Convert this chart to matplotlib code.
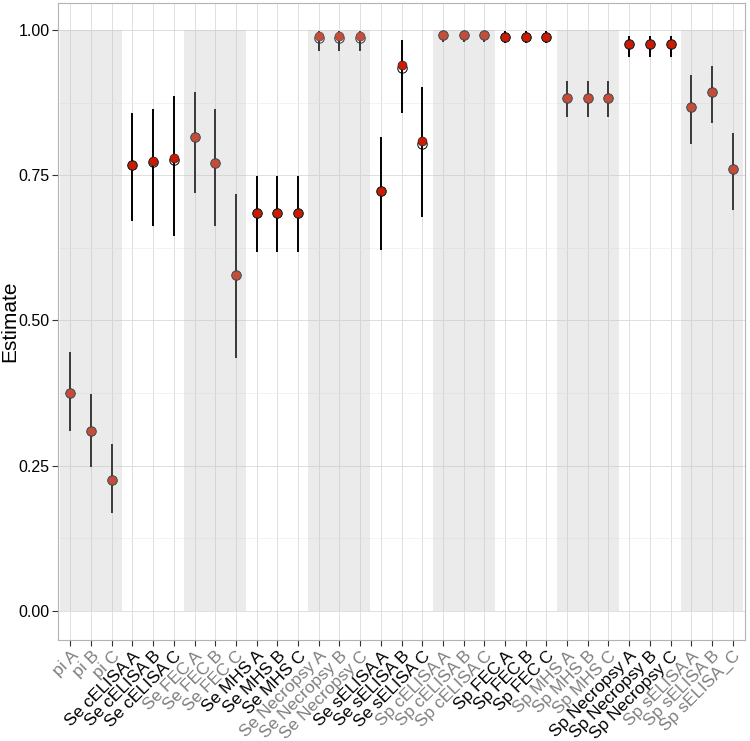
import matplotlib
matplotlib.use("Agg")
import matplotlib.pyplot as plt
from matplotlib.ticker import MultipleLocator

plt.rcParams['font.family'] = ['Liberation Sans', 'DejaVu Sans']

labels = ["pi A", "pi B", "pi C",
          "Se cELISA A", "Se cELISA B", "Se cELISA C",
          "Se FEC A", "Se FEC B", "Se FEC C",
          "Se MHS A", "Se MHS B", "Se MHS C",
          "Se Necropsy A", "Se Necropsy B", "Se Necropsy C",
          "Se sELISA A", "Se sELISA B", "Se sELISA C",
          "Sp cELISA A", "Sp cELISA B", "Sp cELISA C",
          "Sp FEC A", "Sp FEC B", "Sp FEC C",
          "Sp MHS A", "Sp MHS B", "Sp MHS C",
          "Sp Necropsy A", "Sp Necropsy B", "Sp Necropsy C",
          "Sp sELISA A", "Sp sELISA B", "Sp sELISA_C"]

estimate = [0.375, 0.310, 0.225,
            0.768, 0.775, 0.780,
            0.816, 0.771, 0.578,
            0.685, 0.685, 0.685,
            0.990, 0.990, 0.990,
            0.723, 0.940, 0.809,
            0.991, 0.991, 0.991,
            0.988, 0.988, 0.988,
            0.883, 0.883, 0.883,
            0.976, 0.976, 0.976,
            0.867, 0.893, 0.761]

estimate2 = [0.375, 0.310, 0.225,
             0.768, 0.773, 0.777,
             0.816, 0.771, 0.578,
             0.685, 0.685, 0.685,
             0.987, 0.987, 0.987,
             0.723, 0.935, 0.803,
             0.991, 0.991, 0.991,
             0.988, 0.988, 0.988,
             0.883, 0.883, 0.883,
             0.976, 0.976, 0.976,
             0.867, 0.893, 0.761]

lower = [0.310, 0.248, 0.169,
         0.671, 0.663, 0.645,
         0.719, 0.663, 0.435,
         0.618, 0.618, 0.618,
         0.964, 0.964, 0.964,
         0.621, 0.857, 0.678,
         0.979, 0.979, 0.979,
         0.978, 0.978, 0.978,
         0.850, 0.850, 0.850,
         0.954, 0.954, 0.954,
         0.804, 0.840, 0.690]

upper = [0.446, 0.373, 0.287,
         0.857, 0.864, 0.886,
         0.893, 0.864, 0.718,
         0.749, 0.749, 0.749,
         0.998, 0.998, 0.998,
         0.816, 0.983, 0.902,
         0.998, 0.998, 0.998,
         0.998, 0.998, 0.998,
         0.912, 0.912, 0.912,
         0.990, 0.990, 0.990,
         0.922, 0.938, 0.823]

fig = plt.figure(figsize=(7.5, 7.41), dpi=100)
ax = fig.add_axes([58/750, 1-640/741, (745-58)/750, (640-3)/741])

x = list(range(len(labels)))

ax.set_xlim(-0.6, len(labels) - 0.4)
ax.set_ylim(-0.05, 1.0465)

# grid
ax.yaxis.set_major_locator(MultipleLocator(0.25))
ax.yaxis.set_minor_locator(MultipleLocator(0.125))
ax.grid(True, which='major', axis='both', color='#DEDEDE', linewidth=0.7, zorder=0)
ax.grid(True, which='minor', axis='y', color='#EFEFEF', linewidth=0.5, zorder=0)
ax.set_axisbelow(True)

# error bars
ax.vlines(x, lower, upper, colors='black', linewidth=1.4, zorder=2)
# open circles
ax.plot(x, estimate2, linestyle='none', marker='o', markersize=6.8,
        markerfacecolor='none', markeredgecolor='black', markeredgewidth=0.7, zorder=3)
# filled points
ax.plot(x, estimate, linestyle='none', marker='o', markersize=6.4,
        markerfacecolor='#CD1A00', markeredgecolor='#222222', markeredgewidth=0.5, zorder=4)

# grey shading drawn over
ngroups = len(labels) // 3
for g in range(0, ngroups, 2):
    ax.axvspan(3*g - 0.5, 3*g + 2.5, ymin=(0 + 0.05)/1.0965, ymax=(1 + 0.05)/1.0965,
               facecolor='#BEBEBE', alpha=0.3, edgecolor='none', zorder=5)

ax.set_xticks(x)
ax.set_xticklabels(labels, rotation=45, ha='right', va='top', rotation_mode='anchor',
                   fontsize=12.5)
for i, t in enumerate(ax.get_xticklabels()):
    g = i // 3
    t.set_color('#7F7F7F' if g % 2 == 0 else 'black')

ax.set_yticks([0, 0.25, 0.5, 0.75, 1.0])
ax.set_yticklabels(["0.00", "0.25", "0.50", "0.75", "1.00"], fontsize=11.5, color='black')
ax.tick_params(axis='both', which='major', direction='out', length=4, width=0.8, color='#333333')
ax.tick_params(axis='y', which='minor', length=0)
ax.tick_params(axis='x', pad=2)
ax.tick_params(axis='y', pad=2)

fig.text(9.5/750, 1 - 321/741, "Estimate", rotation=90, ha='center', va='center', fontsize=15)

for s in ax.spines.values():
    s.set_color('#B3B3B3')
    s.set_linewidth(0.8)

fig.savefig("out.png", dpi=100)
